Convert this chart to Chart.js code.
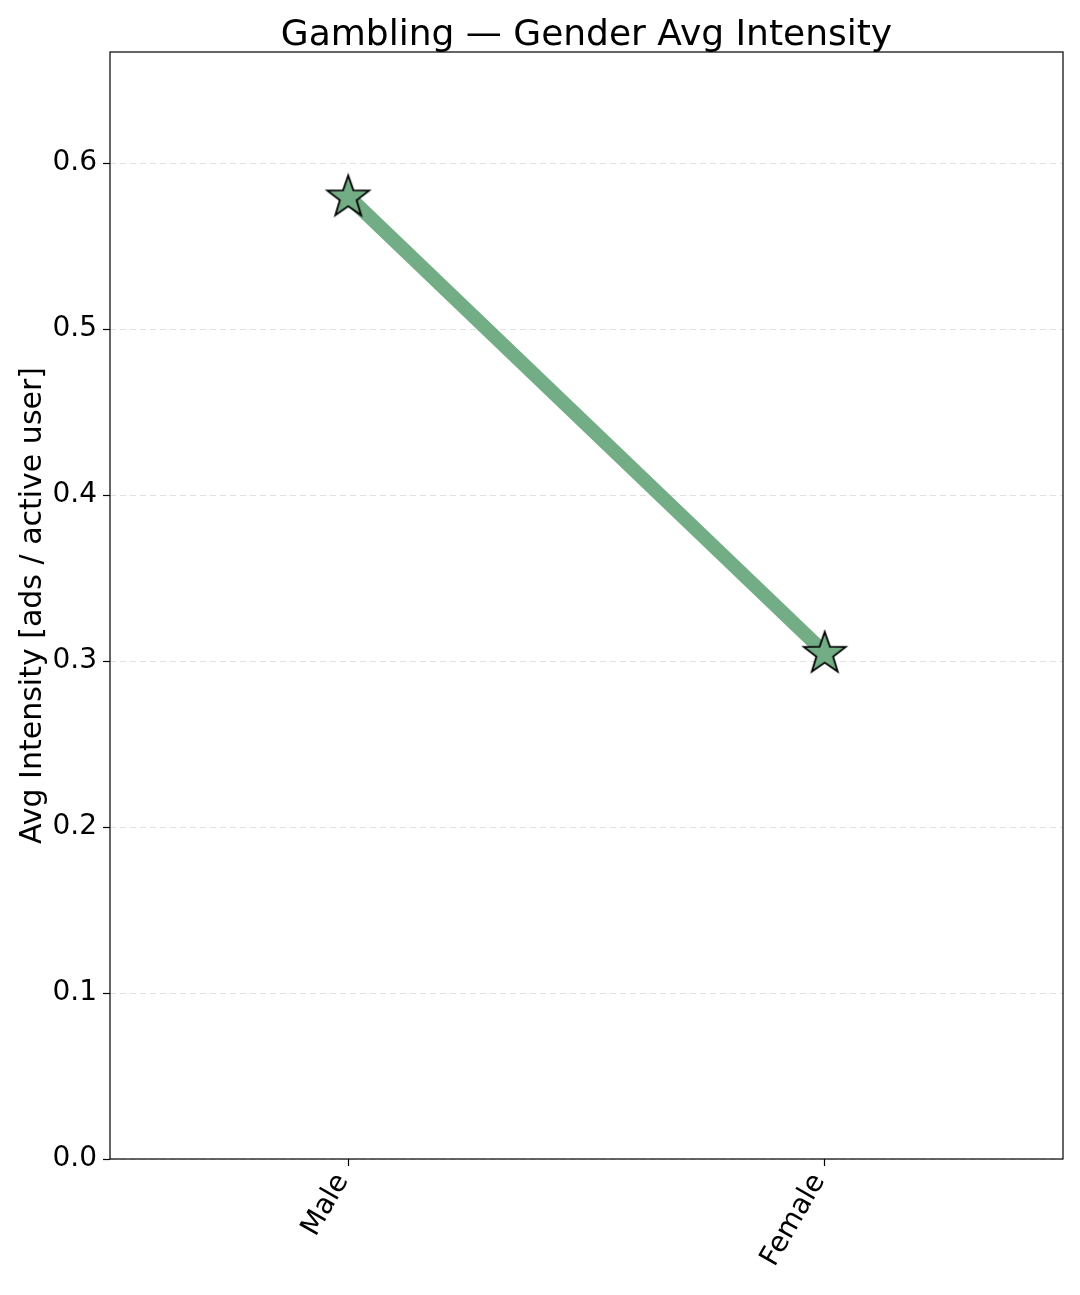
<!DOCTYPE html>
<html>
<head>
<meta charset="utf-8">
<script src="https://cdn.jsdelivr.net/npm/chart.js@4.4.0/dist/chart.umd.min.js"></script>
<style>
  html, body { margin: 0; padding: 0; background: #fff; }
  #chart { display: block; }
</style>
</head>
<body>
<canvas id="chart" width="1080" height="1295"></canvas>
<script>
const categories = ['Male', 'Female'];
const intensity = [0.580, 0.305];
const yTicks = [0.0, 0.1, 0.2, 0.3, 0.4, 0.5, 0.6];

const green = '#73ad85';
const font = "'DejaVu Sans', sans-serif";

// filled 5-point star with black edge, used as the point style
function makeStar(r) {
    const c = document.createElement('canvas');
    const s = Math.ceil(r * 2 + 4);
    c.width = s; c.height = s;
    const g = c.getContext('2d');
    const cx = s / 2, cy = s / 2 + 1;
    g.beginPath();
    for (let i = 0; i < 10; i++) {
        const rad = i % 2 === 0 ? r : r * 0.4;
        const a = -Math.PI / 2 + i * Math.PI / 5;
        const px = cx + rad * Math.cos(a), py = cy + rad * Math.sin(a);
        if (i === 0) g.moveTo(px, py); else g.lineTo(px, py);
    }
    g.closePath();
    g.fillStyle = green;
    g.fill();
    g.lineWidth = 1.8;
    g.strokeStyle = '#000';
    g.lineJoin = 'miter';
    g.stroke();
    return c;
}
const star = makeStar(22);

const frame = {
    id: 'frame',
    afterDraw(chart) {
        const { ctx, chartArea: a } = chart;
        ctx.save();
        ctx.strokeStyle = '#000';
        ctx.lineWidth = 1.2;
        ctx.strokeRect(a.left, a.top, a.right - a.left, a.bottom - a.top);
        ctx.fillStyle = '#000';
        ctx.font = "36px " + font;
        ctx.textAlign = 'center';
        ctx.textBaseline = 'alphabetic';
        ctx.fillText('Gambling — Gender Avg Intensity', (a.left + a.right) / 2, 45);
        ctx.restore();
    }
};

new Chart(document.getElementById('chart'), {
    type: 'line',
    data: {
        datasets: [{
            data: categories.map((c, i) => ({ x: i, y: intensity[i] })),
            borderColor: green,
            borderWidth: 14,
            pointStyle: star,
            pointRadius: 22,
            pointHoverRadius: 22,
            tension: 0,
            fill: false
        }]
    },
    options: {
        responsive: false,
        animation: false,
        events: [],
        layout: { autoPadding: false, padding: { top: 52, right: 17, left: 0, bottom: 0 } },
        plugins: { legend: { display: false }, tooltip: { enabled: false }, title: { display: false } },
        scales: {
            x: {
                type: 'linear',
                min: -0.5,
                max: 1.5,
                afterBuildTicks: s => { s.ticks = categories.map((c, i) => ({ value: i })); },
                afterFit: s => {
                    s.height = 1295 - 1159;
                    s.paddingLeft = 0;
                    s.paddingRight = 0;
                },
                border: { display: false },
                grid: { drawOnChartArea: false, drawTicks: true, tickLength: 7, tickColor: '#000', tickWidth: 1.2 },
                ticks: {
                    minRotation: 60,
                    maxRotation: 60,
                    color: '#000',
                    padding: 2,
                    labelOffset: -6,
                    font: { family: font, size: 28 },
                    callback: v => categories[v]
                }
            },
            y: {
                min: 0,
                max: 0.667,
                afterBuildTicks: s => { s.ticks = yTicks.map(v => ({ value: v })); },
                afterFit: s => {
                    s.width = 110;
                    s.paddingTop = 0;
                    s.paddingBottom = 0;
                },
                border: { display: false, dash: [6, 4] },
                grid: {
                    color: 'rgba(0,0,0,0.12)',
                    lineWidth: 1,
                    tickBorderDash: [],
                    tickColor: '#000',
                    tickWidth: 1.2,
                    tickLength: 7
                },
                ticks: {
                    color: '#000',
                    padding: 6,
                    font: { family: font, size: 28 },
                    callback: v => v.toFixed(1)
                },
                title: {
                    display: true,
                    text: 'Avg Intensity [ads / active user]',
                    color: '#000',
                    font: { family: font, size: 30 },
                    padding: { top: 15, bottom: 0 }
                }
            }
        }
    },
    plugins: [frame]
});
</script>
</body>
</html>
